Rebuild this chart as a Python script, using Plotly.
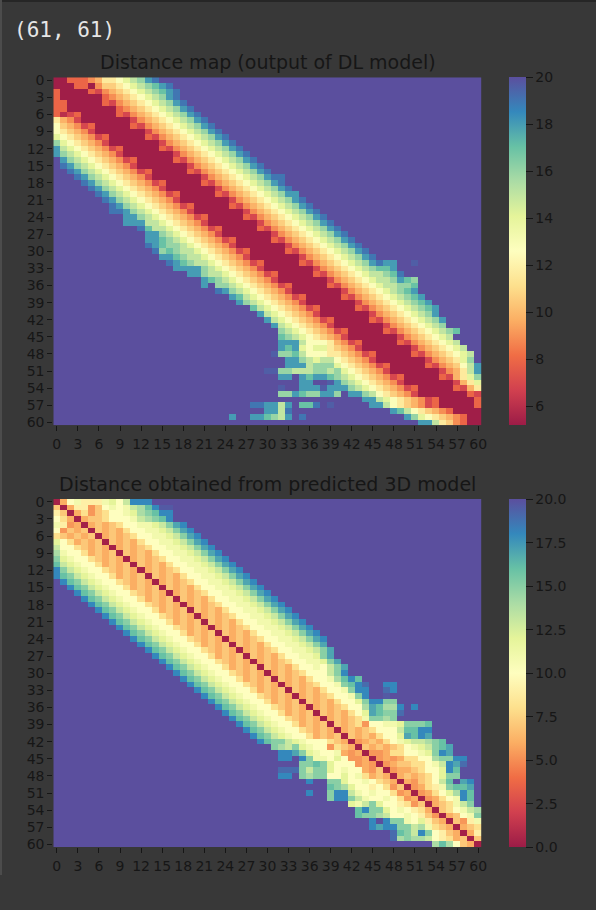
import plotly.graph_objects as go

shape_text = "(61, 61)"
title_map = "Distance map (output of DL model)"
title_model = "Distance obtained from predicted 3D model"
tick_values = list(range(0, 61, 3))

# one letter per cell; cells outside a row's band are 20
map_levels = {"a": 5.3, "b": 6, "c": 7.9, "d": 6.9, "e": 8.9, "f": 9.8, "g": 10.6, "h": 11.6,
              "i": 12.8, "j": 14, "k": 15, "l": 16, "m": 17, "n": 18, "o": 19, "p": 19.6, ".": 20}
model_levels = {"z": 0.3, "a": 5.3, "b": 6, "c": 7, "d": 8, "e": 9, "f": 10, "g": 11, "h": 12,
                "i": 13, "j": 14, "k": 15, "l": 16, "m": 17, "n": 18, "o": 19, "p": 19.6, ".": 20}

map_starts = [0] * 14 + [1, 1, 2, 3, 4, 5, 6, 7, 8, 8, 10, 10, 12, 13, 13, 13, 14, 15, 16, 17,
                         19, 21, 21, 23, 25, 26, 28, 29, 30, 31, 32, 32, 32, 32, 31, 33, 33,
                         30, 32, 35, 32, 32, 44, 28, 30, 25, 52]
map_rows = [
    "aacccefhhijklno",
    "aaaccaegghijklmno",
    "caaaacdefghijklmno",
    "caaaaaacefghijklno",
    "ccaaaaacdefghijklno",
    "ccaaaaaaacefghijklno",
    "cbdcaaaaacdefghijklno",
    "hfedaaaaaaadefghijklno",
    "igfedcaaaaacdefghijklno",
    "ihgfedaaaaaaadefghijklno",
    "jihgfedcaaaaacdefghijklno",
    "ljihgfedaaaaaaadefghijklno",
    "nkjihgfedcaaaaacdefghijklno",
    "nlkjihgfedaaaaaaadefghijklno",
    "nlkjihgfedcaaaaacdefghijklno",
    "onlkjihgfedaaaaaaadefghijklno",
    "onlkjihgfedcaaaaacdefghijklno",
    "onlkjihgfedaaaaaaadefghijklnoo",
    "onlkjihgfedcaaaaacdefghijklno",
    "onlkjihgfedaaaaaaadefghijklno",
    "onlkjihgfedcaaaaacdefghijklnn",
    "onlkjihgfedaaaaaaadefghijklno",
    "onlkjihgfedcaaaaacdefghijklno",
    "oonlkjihgfedaaaaaaadefghijklno",
    "nnlkjihgfedcaaaaacdefghijklno",
    "nnnkkjihgfedaaaaaaadefghijklno",
    "omkkjihgfedcaaaaacdefghijklno",
    "nnlkjihgfedaaaaaaadefghijklno",
    "nnmlkjihgfedcaaaaacdefghijklno",
    "onmllkjihgfedaaaaaaadefghijklno",
    "olmlkkjihgfedcaaaaacdefghijklno",
    "nnmlkkjihgfedaaaaaaadefghijklno",
    "onmlkkjihgfedcaaaaacdefghijklnonn..p",
    "nnnnlkjihgfedaaaaaaadefghijklmmn",
    "nnlkkjihgfedcaaaaacdefghijkklmo",
    "nmlkjihgfedaaaaaaadefghijkklnml",
    "n.llkjihgfedcaaaaacdefghijkkllm",
    "onlkjihgfedaaaaaaadefghijklmn",
    "nmkjihgfedcaaaaacdefghijklmn",
    "nlkjihgfedaaaaaaadefghijklmn",
    "mkjihgfedcaaaaacdefghijklmn",
    "nkjihgfedaaaaaaadefghijkln",
    "nkjihgfedcaaaaacdefghijkln",
    "nkjihgfedaaaaaaadefghijkl",
    "lkjihgfedcaaaaacdefghijklm",
    "mlkjihgfedaaaaaaadefghijk",
    "nnnkiiihfedcaaaaacdefghijk",
    "nmnjijjhgfedaaaaaaadefghijk",
    "pllmkiiihhgfedcaaaaacdefghijk",
    "nnlkjkkihgfedaaaaaaadefghjl",
    "nnnklllјihgfedcaaaaacdefgikn".replace("ј", "j"),
    "ppllkkkllkljihgfedaaaaaaadefhkn",
    "nn.nmnnmlkjihgfedcaaaaacdfhjl",
    "nn..pnlkjihgfedaaaaaaadfhj",
    "p..nnnpnnnlkjihgfedcaaaaacdfh",
    "llnmllnnl.nnlkihgfedaaaaaaacdg",
    "nnkjihgfedcaaaaace",
    "oonnkn.mmo.p.....nnkihgfedcaaaaac",
    "nnko..............nmkihgfecaaaa",
    "n..nnmlkn.o..............nljihgfecaa",
    "nnkhgecaa",
]

model_starts = [0] * 14 + list(range(1, 29)) + [29, 31, 32, 32, 35, 32, 32, 36, 39, 36, 39, 42,
                                                43, 43, 45, 45, 48, 48, 54]
model_rows = [
    "zbfgeeeghfinnn",
    "czbeeacfgfgijlnpp",
    "eczbdacdffghjklnn",
    "fdbzbccdfffgijkln",
    "geabzbcbcdffgghikmn",
    "facbczcbcbdffgghikmn",
    "dcbcbczbcbcdffgghikmn",
    "hfdbcbczcbcbdffgghikmn",
    "iffdcbcbzbcbcdffgghikmn",
    "jgffdbcbczcbcbdffgghikmn",
    "khgffdcbcbzbcbcdffgghikmn",
    "lihgffdbcbczcbcbdffgghikmn",
    "nkihgffdcbcbzbcbcdffgghikmn",
    "nlkihgffdbcbczcbcbdffgghikmn",
    "nlkihgffdcbcbzbcbcdffgghikmn",
    "nlkihgffdbcbczcbcbdffgghikmn",
    "nlkihgffdcbcbzbcbcdffgghikmn",
    "nlkihgffdbcbczcbcbdffgghikmn",
    "nlkihgffdcbcbzbcbcdffgghikmn",
    "nlkihgffdbcbczcbcbdffgghikmn",
    "nlkihgffdcbcbzbcbcdffgghikmn",
    "nlkihgffdbcbczcbcbdffgghikmn",
    "nlkihgffdcbcbzbcbcdffgghikmn",
    "nlkihgffdbcbczcbcbdffgghikmn",
    "nlkihgffdcbcbzbcbcdffgghikmn",
    "nlkihgffdbcbczcbcbdffgghikm",
    "nlkihgffdcbcbzbcbcdffgghikm",
    "nlkihgffdbcbczcbcbdffgghkm",
    "nlkihgffdcbcbzbcbcdffgghkm",
    "nlkihgffdbcbczcbcbdffgfikm",
    "nlkihgffdcbcbzbcbcdfffikn",
    "nlkihgffdbcbczcbcbdffgjlnl",
    "nlkihgffdcbcbzbcbcdffgklno..nn",
    "nlkihgffdbcbczcbcbdffgknn..on",
    "nlkihgffdcbcbzbcbcdffgkn..p",
    "nlkihgffdbcbczcbcbdffhknnkk",
    "nlkihgffdcbcbzbcbcdffjmljjn.n",
    "nlkihgffdbcbczcbcbdfhmlkko",
    "nlkihgffdcbcbzbcbcdgkkjk",
    "nlkihgffdbcbczcbcdaffgghkkkl",
    "nlkihgffdcbcbzbcbcdfffillnn",
    "nlkihgffdbcbczcbcbdffhmlnm",
    "nlkkihgfffdcbzabcbdfghiijkl",
    "kjikhgffadcbzcbcbcdfghiklm",
    "nnmkhgffgbabzaabddffghknm",
    "nn.nkggfhfaabzababddffjkknn",
    "kklkhfffabazabccddfginmo",
    "oookikkhfgffbaczabbcdffhnl",
    "nn.kjkkffhfgdbcbzbcbcdfhkk",
    "n..kkhffgfdcbzbacdfil.mn",
    "lkjhffefdaczabdegkllm",
    "n..knnigfgffdabzabdfhjnl",
    "knnkigffgfdabzabdfgnl",
    "hgikhffedaczbcdgik",
    "lnkkhfgfedbzcdfgij",
    "lkkjiffgfecazbcfgk",
    "n.nkkgfhecbzcaeg",
    "nmnnkkijgdcbzbcd",
    "olkinkfecbzbe",
    "ojkjjifedbczc",
    "jljfcbz",
]

spectral = [[0.0, "#9c1c47"], [0.1, "#d1404f"], [0.2, "#f06d45"], [0.3, "#fbae63"],
            [0.4, "#fde08d"], [0.5, "#fefebf"], [0.6, "#e5f49a"], [0.7, "#abdca5"],
            [0.8, "#67c1a5"], [0.9, "#3488bc"], [1.0, "#5b4f9e"]]

bg = "#383838"
ink = "#161616"
W, H = 596, 910


def decode(starts, rows, levels):
    grid = []
    for start, row in zip(starts, rows):
        cells = [20.0] * 61
        for i, ch in enumerate(row):
            if start + i < 61:
                cells[start + i] = levels[ch]
        grid.append(cells)
    return grid


def heatmap(grid, zmin, cb_ticks, cb_text, suffix, top, bottom):
    return go.Heatmap(
        z=grid,
        x=list(range(61)),
        y=list(range(61)),
        zmin=zmin,
        zmax=20,
        colorscale=spectral,
        xaxis="x" + suffix,
        yaxis="y" + suffix,
        colorbar=dict(
            x=508.5 / W, xanchor="left", thickness=16.5, thicknessmode="pixels",
            y=1 - (top + bottom) / 2 / H, yanchor="middle", len=(bottom - top) / H, lenmode="fraction",
            outlinewidth=0, ticks="outside", ticklen=7, tickcolor=ink, tickwidth=1,
            tickvals=cb_ticks, ticktext=cb_text,
            tickfont=dict(family="DejaVu Sans", size=14, color=ink), xpad=0, ypad=0,
        ),
    )


fig = go.Figure()
fig.add_trace(heatmap(decode(map_starts, map_rows, map_levels), 5.2, [6, 8, 10, 12, 14, 16, 18, 20],
                      ["6", "8", "10", "12", "14", "16", "18", "20"], "", 77.3, 425.3))
fig.add_trace(heatmap(decode(model_starts, model_rows, model_levels), 0, [0, 2.5, 5, 7.5, 10, 12.5, 15, 17.5, 20],
                      ["0.0", "2.5", "5.0", "7.5", "10.0", "12.5", "15.0", "17.5", "20.0"], "2", 499, 847.3))

axis_style = dict(
    tickvals=tick_values, ticktext=[str(v) for v in tick_values], ticks="outside", ticklen=5,
    tickcolor=ink, tickwidth=1, showgrid=False, zeroline=False, showline=False,
    tickfont=dict(family="DejaVu Sans", size=14, color=ink), tickangle=0,
)
x_dom = [53.3 / W, 481.7 / W]

fig.update_layout(
    width=W,
    height=H,
    margin=dict(l=0, r=0, t=0, b=0, autoexpand=False),
    paper_bgcolor=bg,
    plot_bgcolor=bg,
    showlegend=False,
    xaxis=dict(domain=x_dom, range=[-0.5, 60.5], anchor="y", ticklabelstandoff=1, **axis_style),
    yaxis=dict(domain=[1 - 425.3 / H, 1 - 77.3 / H], range=[60.5, -0.5], anchor="x", **axis_style),
    xaxis2=dict(domain=x_dom, range=[-0.5, 60.5], anchor="y2", ticklabelstandoff=1, **axis_style),
    yaxis2=dict(domain=[1 - 847.3 / H, 1 - 499 / H], range=[60.5, -0.5], anchor="x2", **axis_style),
)

for text, ypos in [(title_map, 62), (title_model, 484)]:
    fig.add_annotation(text=text, xref="paper", yref="paper", x=267.5 / W, y=1 - ypos / H,
                       xanchor="center", yanchor="middle", showarrow=False,
                       font=dict(family="DejaVu Sans", size=19, color=ink))
fig.add_annotation(text=shape_text, xref="paper", yref="paper", x=12 / W, y=1 - 30 / H,
                   xanchor="left", yanchor="middle", showarrow=False,
                   font=dict(family="DejaVu Sans Mono", size=21, color="#e6e6e6"))

# notebook cell edges
fig.add_shape(type="rect", xref="paper", yref="paper", x0=0, x1=1, y0=1 - 2 / H, y1=1,
              fillcolor="#262626", line_width=0)
fig.add_shape(type="rect", xref="paper", yref="paper", x0=0, x1=2 / W, y0=1 - 875 / H, y1=1,
              fillcolor="#4c4c4c", line_width=0)

# the default page margin would push the figure off the window
fig.write_html("out.html", config={"displayModeBar": False},
               post_script="document.body.style.margin='0';document.body.style.background='#383838';")
